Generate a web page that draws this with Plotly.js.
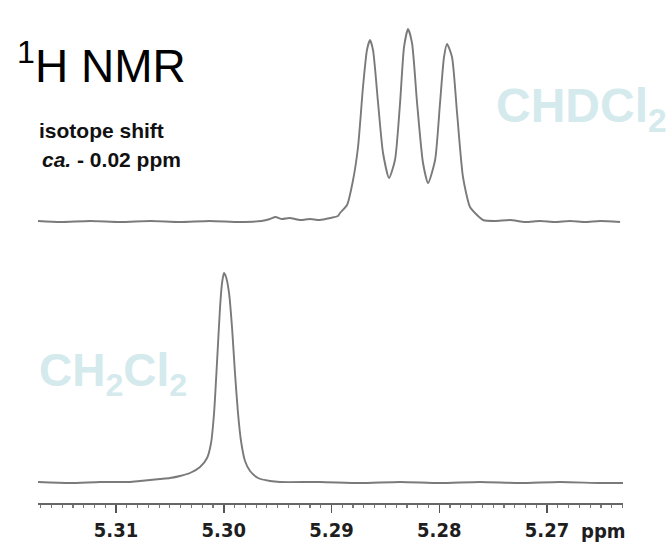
<!DOCTYPE html>
<html>
<head>
<meta charset="utf-8">
<script src="https://cdn.plot.ly/plotly-3.0.1.min.js"></script>
<style>
  html, body { margin: 0; padding: 0; background: #ffffff; }
  #plot { width: 672px; height: 546px; }
</style>
</head>
<body>
<div id="plot"></div>
<script>
// CHDCl2 signal (1:1:1 triplet from H-D coupling), chemical shift in ppm
const chdcl2Ppm = [
  5.31724, 5.31520, 5.31240, 5.30960, 5.30680, 5.30410, 5.30130, 5.29850,
  5.29650, 5.29570, 5.29520, 5.29460, 5.29390, 5.29290, 5.29200, 5.29110,
  5.29010, 5.28940, 5.28921, 5.28856, 5.28800, 5.28754, 5.28708, 5.28671,
  5.28643, 5.28615, 5.28568, 5.28522, 5.28466, 5.28411, 5.28364, 5.28327,
  5.28290, 5.28253, 5.28206, 5.28151, 5.28104, 5.28039, 5.27993, 5.27956,
  5.27928, 5.27882, 5.27835, 5.27780, 5.27715, 5.27650, 5.27594, 5.27483,
  5.27343, 5.27204, 5.27065, 5.26926, 5.26787, 5.26647, 5.26508, 5.26322
];
const chdcl2Int = [
  1, 0, 1, 0, 1, 0, 1, 0,
  1, 3, 5, 3, 4, 2, 3, 2,
  4, 6, 9, 17, 42, 75, 135, 172,
  182, 172, 119, 69, 44, 62, 119, 175,
  193, 179, 119, 59, 39, 62, 119, 165,
  178, 165, 109, 45, 15, 7, 2, 1,
  2, 0, 1, 0, 1, 0, 1, 0
];

// CH2Cl2 signal (singlet), chemical shift in ppm
const ch2cl2Ppm = [
  5.31724, 5.31427, 5.31148, 5.30879, 5.30777, 5.30684, 5.30591, 5.30499,
  5.30406, 5.30313, 5.30220, 5.30155, 5.30118, 5.30090, 5.30063, 5.30035,
  5.30016, 5.29998, 5.29979, 5.29951, 5.29923, 5.29896, 5.29868, 5.29840,
  5.29803, 5.29756, 5.29682, 5.29571, 5.29478, 5.29107, 5.28735, 5.28364,
  5.27993, 5.27622, 5.27251, 5.26880, 5.26508, 5.26276
];
const ch2cl2Int = [
  1, 0, 1, 1, 2, 3, 4, 5,
  7, 10, 16, 25, 40, 70, 120, 175,
  200, 210, 206, 190, 155, 110, 70, 42,
  22, 12, 5, 2, 1, 1, 0, 1,
  0, 1, 0, 1, 0, 0
];

// Axis ticks
const tickPpm = [5.31, 5.30, 5.29, 5.28, 5.27];
const tickLabels = ["5.31", "5.30", "5.29", "5.28", "5.27"];

const lineStyle = { color: "#7a7a7a", width: 1.9, shape: "spline", smoothing: 0.6 };

const traces = [
  {
    x: ch2cl2Ppm, y: ch2cl2Int, type: "scatter", mode: "lines",
    line: lineStyle, yaxis: "y", hoverinfo: "skip"
  },
  {
    x: chdcl2Ppm, y: chdcl2Int, type: "scatter", mode: "lines",
    line: lineStyle, yaxis: "y2", hoverinfo: "skip"
  }
];

const narrowBold = { family: "DejaVu Sans Condensed, Liberation Sans Narrow, Arial Narrow, sans-serif", size: 20, color: "#1e1e1e", weight: "bold" };
const labelColor = "#d4eaed";

const layout = {
  width: 672,
  height: 546,
  margin: { l: 38, r: 49, t: 10, b: 43 },
  paper_bgcolor: "#ffffff",
  plot_bgcolor: "#ffffff",
  showlegend: false,
  xaxis: {
    range: [5.31724, 5.26295],
    tickvals: tickPpm,
    ticktext: tickLabels,
    ticks: "outside",
    ticklen: 8,
    tickwidth: 1.5,
    tickcolor: "#555555",
    tickfont: narrowBold,
    showline: true,
    linecolor: "#666666",
    linewidth: 2,
    showgrid: false,
    zeroline: false,
    minor: { tick0: 5.27, dtick: 0.001, ticks: "outside", ticklen: 3, tickwidth: 1.2, tickcolor: "#777777", showgrid: false },
    fixedrange: true
  },
  yaxis: { range: [-20, 473], visible: false, fixedrange: true },
  yaxis2: { range: [-281, 212], overlaying: "y", visible: false, fixedrange: true },
  annotations: [
    {
      text: "<sup>1</sup>H NMR", xref: "paper", yref: "paper",
      x: -0.04, y: 0.893, xanchor: "left", yanchor: "middle", showarrow: false,
      font: { family: "Liberation Sans, Arial, sans-serif", size: 46, color: "#000000" }
    },
    {
      text: "<b>isotope shift</b>", xref: "paper", yref: "paper",
      x: -0.002, y: 0.755, xanchor: "left", yanchor: "middle", showarrow: false,
      font: { family: "Liberation Sans, Arial, sans-serif", size: 21, color: "#111111" }
    },
    {
      text: "<b><i>ca.</i> - 0.02 ppm</b>", xref: "paper", yref: "paper",
      x: 0.004, y: 0.697, xanchor: "left", yanchor: "middle", showarrow: false,
      font: { family: "Liberation Sans, Arial, sans-serif", size: 21, color: "#111111" }
    },
    {
      text: "<b>CHDCl<sub>2</sub></b>", xref: "paper", yref: "paper",
      x: 0.78, y: 0.80, xanchor: "left", yanchor: "middle", showarrow: false,
      font: { family: "Liberation Sans, Arial, sans-serif", size: 48, color: labelColor }
    },
    {
      text: "<b>CH<sub>2</sub>Cl<sub>2</sub></b>", xref: "paper", yref: "paper",
      x: -0.002, y: 0.262, xanchor: "left", yanchor: "middle", showarrow: false,
      font: { family: "Liberation Sans, Arial, sans-serif", size: 46, color: labelColor }
    },
    {
      text: "ppm", xref: "paper", yref: "paper",
      x: 0.966, y: -0.057, xanchor: "center", yanchor: "middle", showarrow: false,
      font: narrowBold
    }
  ]
};

Plotly.newPlot("plot", traces, layout, { staticPlot: true, displayModeBar: false });
</script>
</body>
</html>
